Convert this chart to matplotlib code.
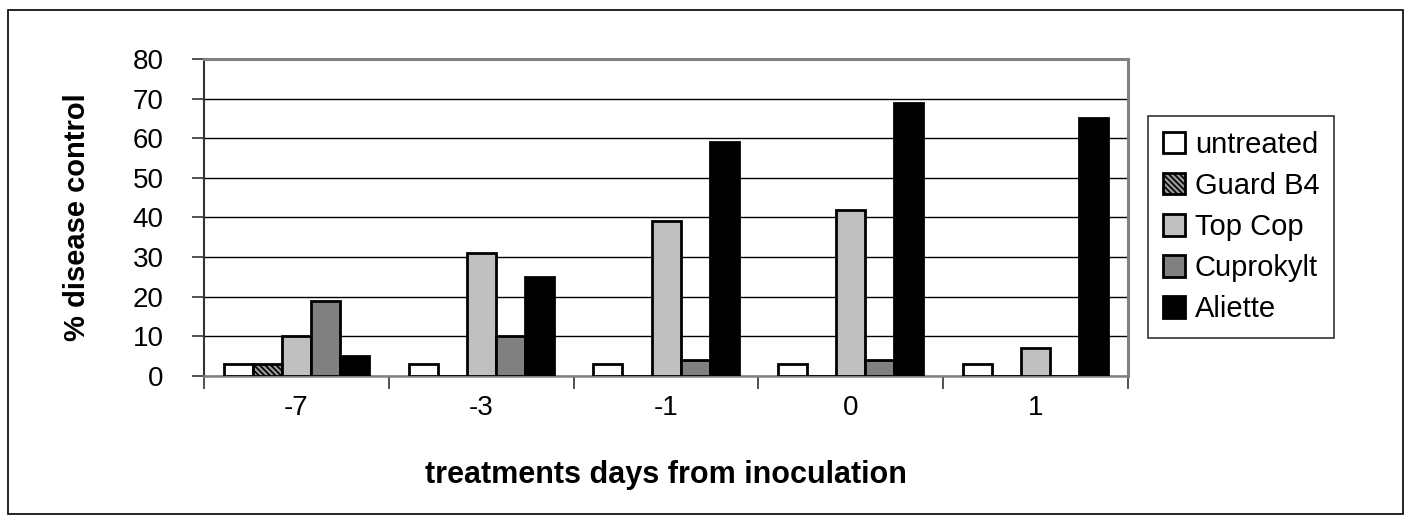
import matplotlib
matplotlib.use("Agg")
import matplotlib.pyplot as plt
from matplotlib.patches import Rectangle
import numpy as np

plt.rcParams['font.family'] = ['Liberation Sans', 'DejaVu Sans']
plt.rcParams['hatch.linewidth'] = 1.2

# data
days = ["-7", "-3", "-1", "0", "1"]
series = ["untreated", "Guard B4", "Top Cop", "Cuprokylt", "Aliette"]
untreated = [3, 3, 3, 3, 3]
guard_b4 = [3, 0, 0, 0, 0]
top_cop = [10, 31, 39, 42, 7]
cuprokylt = [19, 10, 4, 4, 0]
aliette = [5, 25, 59, 69, 65]
values = [untreated, guard_b4, top_cop, cuprokylt, aliette]

faces = ["white", "#9a9a9a", "#c0c0c0", "#808080", "black"]
hatches = [None, "\\\\\\\\\\\\", None, None, None]

fig = plt.figure(figsize=(14.1, 5.2), dpi=100)
ax = fig.add_axes([0.1447, 0.277, 0.6553, 0.6095])

# outer chart border
fig.patches.append(Rectangle((0.006, 0.012), 0.989, 0.968, transform=fig.transFigure,
                             fill=False, edgecolor="black", linewidth=1.2))

x = np.arange(len(days))
w = 0.157
for i, (name, vals) in enumerate(zip(series, values)):
    ax.bar(x + (i - 2) * w, vals, width=w, color=faces[i], edgecolor="black",
           linewidth=2.0, hatch=hatches[i], label=name, zorder=3)

ax.set_xlim(-0.5, 4.5)
ax.set_ylim(0, 80)
ax.set_yticks(range(0, 81, 10))
ax.set_yticklabels([str(v) for v in range(0, 81, 10)], fontsize=20)
ax.yaxis.grid(True, color="black", linewidth=1.0, zorder=0)

# category boundaries as major ticks, labels on minor ticks
ax.set_xticks(np.arange(-0.5, 5.0, 1.0))
ax.set_xticklabels([])
ax.set_xticks(x, minor=True)
ax.set_xticklabels(days, minor=True, fontsize=20)
ax.tick_params(axis="x", which="major", length=9, width=1.2, color="#333333")
ax.tick_params(axis="x", which="minor", length=0, pad=14)
ax.tick_params(axis="y", length=9, width=1.2, color="#333333", pad=20)

for side in ["top", "right"]:
    ax.spines[side].set_color("#808080")
    ax.spines[side].set_linewidth(2.2)
ax.spines["left"].set_color("#333333")
ax.spines["left"].set_linewidth(1.5)
ax.spines["bottom"].set_color("#808080")
ax.spines["bottom"].set_linewidth(1.8)

ax.set_ylabel("% disease control", fontsize=21, fontweight="bold", labelpad=30)
ax.set_xlabel("treatments days from inoculation", fontsize=22, fontweight="bold",
              labelpad=28)

leg = ax.legend(loc="center left", bbox_to_anchor=(1.022, 0.47), fontsize=21,
                frameon=True, fancybox=False, edgecolor="black",
                handlelength=0.75, handleheight=0.75, handletextpad=0.35,
                labelspacing=0.45, borderpad=0.5, borderaxespad=0)
leg.get_frame().set_linewidth(1.2)

fig.savefig("out.png", dpi=100)
